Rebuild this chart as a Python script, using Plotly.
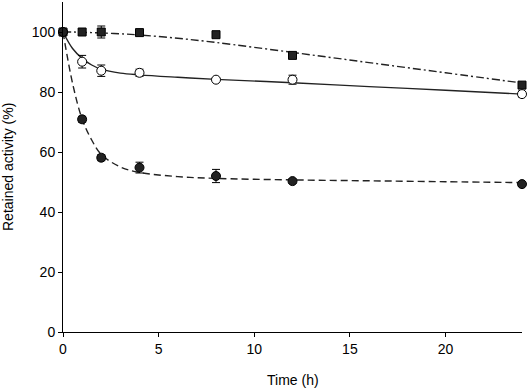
import plotly.graph_objects as go

# Measured points
time_h = [0, 1, 2, 4, 8, 12, 24]
sq_vals = [100, 100, 100, 99.8, 99.1, 92.2, 82.3]
sq_err = [0, 0.8, 2.0, 1.0, 1.0, 1.0, 1.0]
open_vals = [100, 90.1, 87.1, 86.4, 84.1, 84.1, 79.3]
open_err = [0, 2.1, 1.9, 1.2, 0.6, 1.5, 1.0]
fill_vals = [100, 70.9, 58.1, 54.8, 52.0, 50.3, 49.3]
fill_err = [0, 1.0, 1.0, 1.8, 2.2, 0.7, 0.8]

# Fitted curves, values
fit_t = [0, 0.5, 1, 1.5, 2, 3, 4, 6, 8, 12, 16, 20, 24]
sq_fit = [100, 100, 99.9, 99.8, 99.7, 99.4, 99.0, 97.9, 96.5, 93.2, 89.8, 86.4, 83.0]
open_fit = [100, 94.5, 91.2, 89.0, 87.6, 86.3, 85.7, 84.9, 84.2, 83.1, 81.8, 80.6, 79.3]
fill_fit = [100, 82.9, 71.0, 64.0, 59.2, 55.0, 53.2, 51.8, 51.2, 50.7, 50.4, 50.1, 49.8]

x_ticks = [0, 5, 10, 15, 20]
y_ticks = [0, 20, 40, 60, 80, 100]

fig = go.Figure()

# curves
fig.add_trace(go.Scatter(x=fit_t, y=sq_fit, mode="lines", line=dict(color="#222", width=1.4, dash="8px,3px,2px,3px", shape="spline"), cliponaxis=False, showlegend=False))
fig.add_trace(go.Scatter(x=fit_t, y=open_fit, mode="lines", line=dict(color="#222", width=1.4, shape="spline"), cliponaxis=False, showlegend=False))
fig.add_trace(go.Scatter(x=fit_t, y=fill_fit, mode="lines", line=dict(color="#222", width=1.4, dash="7px,4px", shape="spline"), cliponaxis=False, showlegend=False))

# points
fig.add_trace(go.Scatter(x=time_h, y=sq_vals, mode="markers",
                         marker=dict(symbol="square", size=8, color="#222", line=dict(color="#000", width=1)),
                         error_y=dict(type="data", array=sq_err, color="#000", thickness=1, width=4),
                         cliponaxis=False, showlegend=False))
fig.add_trace(go.Scatter(x=time_h, y=open_vals, mode="markers",
                         marker=dict(symbol="circle", size=9, color="white", line=dict(color="#000", width=1)),
                         error_y=dict(type="data", array=open_err, color="#000", thickness=1, width=4),
                         cliponaxis=False, showlegend=False))
fig.add_trace(go.Scatter(x=time_h, y=fill_vals, mode="markers",
                         marker=dict(symbol="circle", size=9, color="#222", line=dict(color="#000", width=1)),
                         error_y=dict(type="data", array=fill_err, color="#000", thickness=1, width=4),
                         cliponaxis=False, showlegend=False))

font_family = "Liberation Sans, Arial, sans-serif"
fig.update_layout(
    width=529, height=391,
    margin=dict(l=63, r=7, t=2, b=59),
    plot_bgcolor="white", paper_bgcolor="white",
    font=dict(family=font_family, size=14, color="#000"),
    xaxis=dict(range=[0, 24], tickvals=x_ticks, showgrid=False, zeroline=False, automargin=False,
               showline=True, linecolor="#000", linewidth=1, ticks="outside", ticklen=4,
               tickcolor="#000", tickfont=dict(size=14)),
    yaxis=dict(range=[0, 110], tickvals=y_ticks, showgrid=False, zeroline=False, automargin=False,
               showline=True, linecolor="#000", linewidth=1, ticks="outside", ticklen=4,
               tickcolor="#000", tickfont=dict(size=14)),
    annotations=[
        dict(text="Time (h)", xref="paper", yref="paper", x=0.5, y=0, yshift=-48,
             xanchor="center", yanchor="middle", showarrow=False, font=dict(size=14)),
        dict(text="Retained activity (%)", xref="paper", yref="paper", x=0, y=0.5, xshift=-55,
             textangle=-90, xanchor="center", yanchor="middle", showarrow=False, font=dict(size=14)),
    ],
)

fig.write_html("out.html", config={"displayModeBar": False},
               post_script="document.body.style.margin='0';document.body.style.overflow='hidden';")
